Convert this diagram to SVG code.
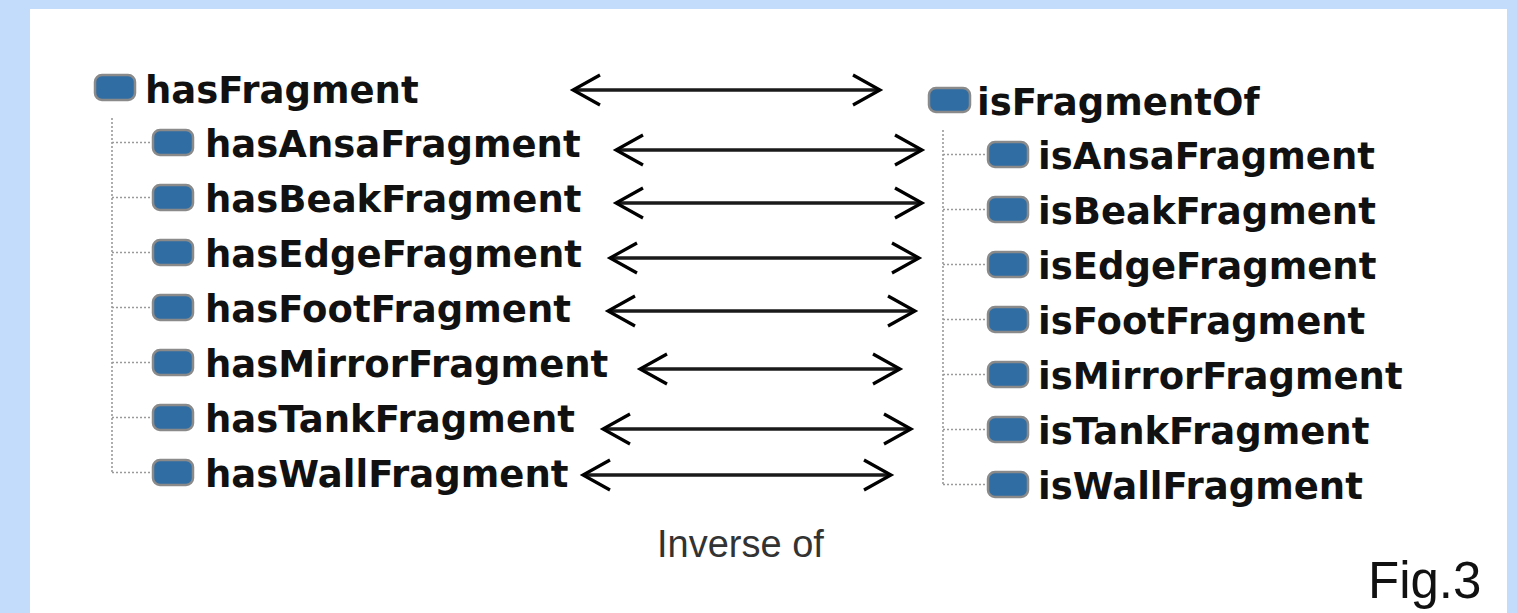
<svg xmlns="http://www.w3.org/2000/svg" width="1517" height="613" viewBox="0 0 1517 613">
<style>
.lbl{font-family:"DejaVu Sans",Verdana,sans-serif;font-weight:bold;font-size:37px;fill:#111}
.ico{fill:#2f6da3;stroke:#8a8a8a;stroke-width:2.5}
.tree{stroke:#9a9a9a;stroke-width:1.6;stroke-dasharray:2 2;fill:none}
.arr{stroke:#1a1a1a;stroke-width:3.5;fill:none;marker-start:url(#hd);marker-end:url(#hd)}
</style>
<defs>
<marker id="hd" markerUnits="userSpaceOnUse" viewBox="-30 -18 32 36" refX="0" refY="0" markerWidth="32" markerHeight="36" orient="auto-start-reverse" overflow="visible">
<path d="M-27,-15 L0,0 L-27,15" fill="none" stroke="#000" stroke-width="3.2"/>
</marker>
</defs>
<rect x="0" y="0" width="1517" height="613" fill="#c4dcfb"/>
<rect x="30" y="9" width="1477" height="604" fill="#fff"/>
<g id="tree-lines">
<path class="tree" d="M112,118 V473 M112,142.5 H150 M112,197.5 H150 M112,252.5 H150 M112,307.5 H150 M112,362.5 H150 M112,417.5 H150 M112,472.5 H150"/>
<path class="tree" d="M943,130 V485 M943,154.5 H985 M943,209.5 H985 M943,264.5 H985 M943,319.5 H985 M943,374.5 H985 M943,429.5 H985 M943,484.5 H985"/>
</g>
<g id="hasFragment"><rect class="ico" x="95" y="75" width="40" height="25" rx="7"/><text class="lbl" x="145" y="103">hasFragment</text></g>
<g id="hasAnsaFragment"><rect class="ico" x="153" y="130" width="40" height="25" rx="7"/><text class="lbl" x="205" y="157">hasAnsaFragment</text></g>
<g id="hasBeakFragment"><rect class="ico" x="153" y="185" width="40" height="25" rx="7"/><text class="lbl" x="205" y="212">hasBeakFragment</text></g>
<g id="hasEdgeFragment"><rect class="ico" x="153" y="240" width="40" height="25" rx="7"/><text class="lbl" x="205" y="267">hasEdgeFragment</text></g>
<g id="hasFootFragment"><rect class="ico" x="153" y="295" width="40" height="25" rx="7"/><text class="lbl" x="205" y="322">hasFootFragment</text></g>
<g id="hasMirrorFragment"><rect class="ico" x="153" y="350" width="40" height="25" rx="7"/><text class="lbl" x="205" y="377">hasMirrorFragment</text></g>
<g id="hasTankFragment"><rect class="ico" x="153" y="405" width="40" height="25" rx="7"/><text class="lbl" x="205" y="432">hasTankFragment</text></g>
<g id="hasWallFragment"><rect class="ico" x="153" y="460" width="40" height="25" rx="7"/><text class="lbl" x="205" y="487">hasWallFragment</text></g>
<g id="isFragmentOf"><rect class="ico" x="929" y="88" width="41" height="24" rx="7"/><text class="lbl" x="977" y="115">isFragmentOf</text></g>
<g id="isAnsaFragment"><rect class="ico" x="988" y="142" width="40" height="25" rx="7"/><text class="lbl" x="1038" y="169">isAnsaFragment</text></g>
<g id="isBeakFragment"><rect class="ico" x="988" y="197" width="40" height="25" rx="7"/><text class="lbl" x="1038" y="224">isBeakFragment</text></g>
<g id="isEdgeFragment"><rect class="ico" x="988" y="252" width="40" height="25" rx="7"/><text class="lbl" x="1038" y="279">isEdgeFragment</text></g>
<g id="isFootFragment"><rect class="ico" x="988" y="307" width="40" height="25" rx="7"/><text class="lbl" x="1038" y="334">isFootFragment</text></g>
<g id="isMirrorFragment"><rect class="ico" x="988" y="362" width="40" height="25" rx="7"/><text class="lbl" x="1038" y="389">isMirrorFragment</text></g>
<g id="isTankFragment"><rect class="ico" x="988" y="417" width="40" height="25" rx="7"/><text class="lbl" x="1038" y="444">isTankFragment</text></g>
<g id="isWallFragment"><rect class="ico" x="988" y="472" width="40" height="25" rx="7"/><text class="lbl" x="1038" y="499">isWallFragment</text></g>
<g id="connectors">
<line class="arr" x1="573" y1="90" x2="880" y2="90"/>
<line class="arr" x1="616" y1="150" x2="922" y2="150"/>
<line class="arr" x1="616" y1="203" x2="922" y2="203"/>
<line class="arr" x1="610" y1="258" x2="919" y2="258"/>
<line class="arr" x1="608" y1="311" x2="915" y2="311"/>
<line class="arr" x1="640" y1="369" x2="900" y2="369"/>
<line class="arr" x1="603" y1="429" x2="911" y2="429"/>
<line class="arr" x1="583" y1="475" x2="891" y2="475"/>
</g>
<text x="657" y="557" font-family="Liberation Sans, Arial, sans-serif" font-size="38" fill="#333">Inverse of</text>
<text x="1368" y="598" font-family="Liberation Sans, Arial, sans-serif" font-size="51" fill="#111">Fig.3</text>
</svg>
